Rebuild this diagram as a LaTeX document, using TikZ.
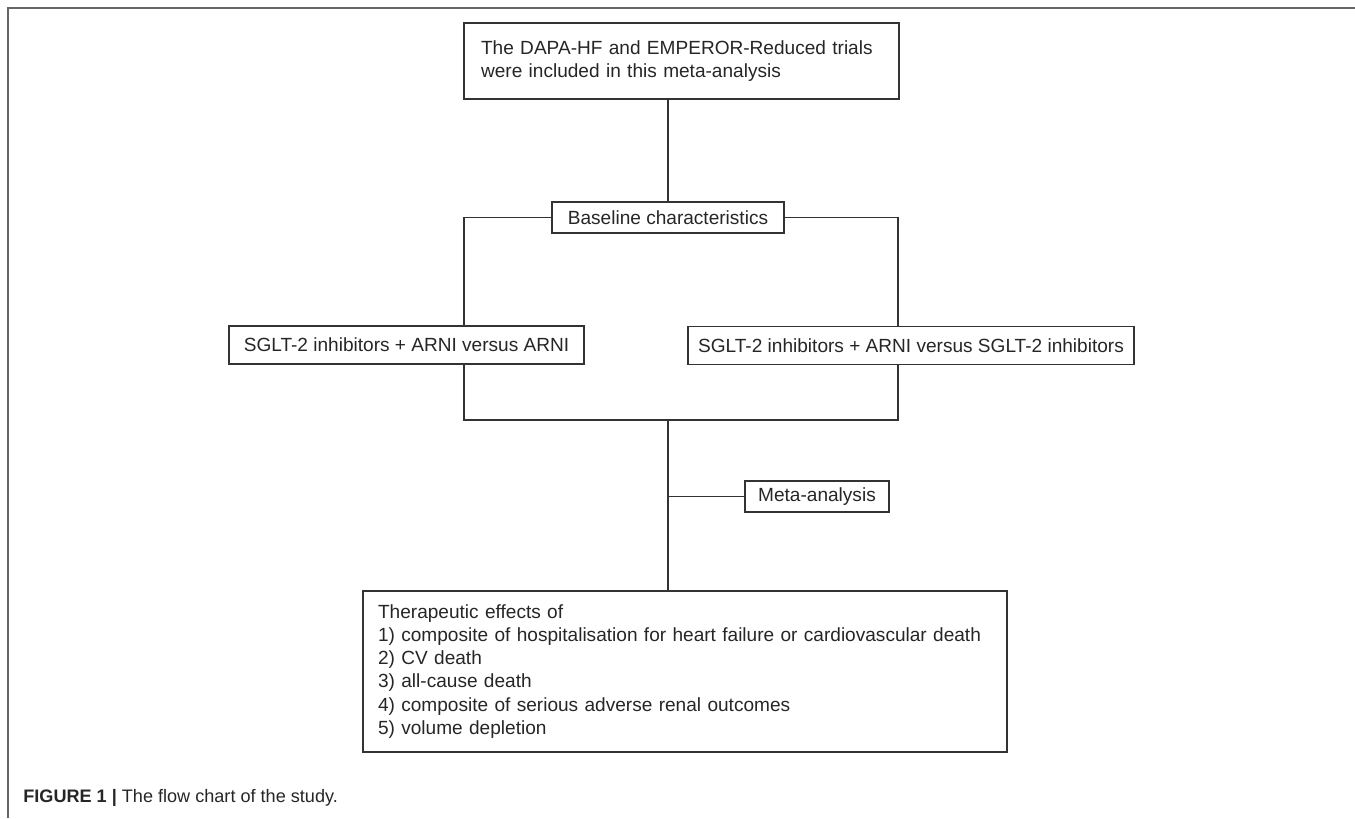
\documentclass[tikz,border=0pt]{standalone}
\usepackage{fontspec}
\setmainfont{Liberation Sans}
\usepackage{tikz}

\tikzset{
	box/.style={draw=black!80, line width=0.8pt, text=black!85, inner sep=0pt,
		font=\fontsize{10.85pt}{13.15pt}\selectfont},
	link/.style={draw=black!80, line width=0.8pt},
}

\begin{document}
\begin{tikzpicture}[x=0.02cm, y=-0.02cm]
		\useasboundingbox (0,0) rectangle (1355,818);
		\draw[black!60, line width=0.8pt] (8,818)--(8,8)--(1355,8);
		\node[box, minimum width=8.7cm, minimum height=1.52cm, text width=8.02cm, inner xsep=0.34cm, align=left] (trials) at (681.5,61)
			{The DAPA-HF and EMPEROR-Reduced trials\\were included in this meta-analysis};
		\node[box, minimum width=4.64cm, minimum height=0.62cm] (base) at (668,217.5) {Baseline characteristics};
		\node[box, minimum width=7.1cm, minimum height=0.76cm] (arni) at (406.5,345) {SGLT-2 inhibitors + ARNI versus ARNI};
		\node[box, minimum width=8.92cm, minimum height=0.76cm] (sglt) at (911,345.5) {SGLT-2 inhibitors + ARNI versus SGLT-2 inhibitors};
		\node[box, minimum width=2.88cm, minimum height=0.62cm] (meta) at (817,496.5) {Meta-analysis};
		\node[box, minimum width=12.88cm, minimum height=3.22cm, text width=12.28cm, inner xsep=0.3cm, align=left] (effects) at (685,671.5)
			{Therapeutic effects of\\
			1) composite of hospitalisation for heart failure or cardiovascular death\\
			2) CV death\\
			3) all-cause death\\
			4) composite of serious adverse renal outcomes\\
			5) volume depletion};
		\coordinate (lcol) at (464,0);
		\coordinate (rcol) at (898,0);
		\coordinate (join) at (668,420);
		\draw[link] (trials.south -| base.north)--(base.north);
		\draw[link] (base.west) -| (lcol |- arni.north);
		\draw[link] (base.east) -| (rcol |- sglt.north);
		\draw[link] (lcol |- arni.south) |- (join) -| (rcol |- sglt.south);
		\draw[link] (join)--(join |- effects.north);
		\draw[link] (join |- meta.west)--(meta.west);
		\node[anchor=west, inner sep=0pt, text=black!85, font=\fontsize{10.3pt}{12pt}\selectfont] (caption) at (23,798)
			{\textbf{FIGURE 1 |} The flow chart of the study.};
	\end{tikzpicture}
\end{document}
